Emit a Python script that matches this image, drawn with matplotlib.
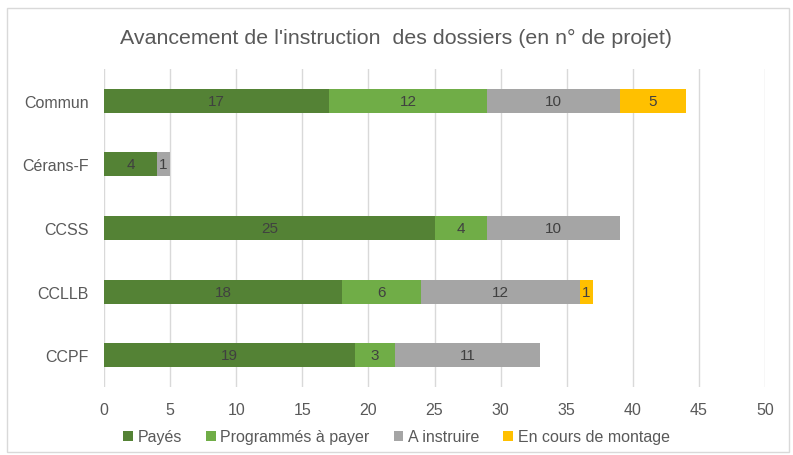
import matplotlib
matplotlib.use("Agg")
import matplotlib.pyplot as plt
from matplotlib.patches import Rectangle
from matplotlib import font_manager

names = {f.name for f in font_manager.fontManager.ttflist}
fam = "Liberation Sans Narrow" if "Liberation Sans Narrow" in names else "Liberation Sans"
plt.rcParams['font.family'] = [fam, 'DejaVu Sans']

categories = ["Commun", "Cérans-F", "CCSS", "CCLLB", "CCPF"]
series_names = ["Payés", "Programmés à payer", "A instruire", "En cours de montage"]
payes = [17, 4, 25, 18, 19]
programmes = [12, 0, 4, 6, 3]
a_instruire = [10, 1, 10, 12, 11]
en_cours = [5, 0, 0, 1, 0]
series = [payes, programmes, a_instruire, en_cours]
colors = ["#548235", "#70AD47", "#A5A5A5", "#FFC000"]
xticks = list(range(0, 55, 5))

fig = plt.figure(figsize=(7.93, 4.56), dpi=100)
ax = fig.add_axes([104/793, 68/456, (765-104)/793, (388-70)/456])

ypos = list(range(len(categories)))[::-1]
left = [0]*len(categories)
for vals, name, col in zip(series, series_names, colors):
    bars = ax.barh(ypos, vals, left=left, height=0.38, color=col, label=name, zorder=3)
    for b, v, l in zip(bars, vals, left):
        if v > 0:
            ax.text(l + v/2, b.get_y() + b.get_height()/2, str(v), ha='center', va='center',
                    fontsize=11, color='#404040', zorder=4)
    left = [a + b for a, b in zip(left, vals)]

ax.set_xlim(0, 50)
ax.set_ylim(-0.5, len(categories)-0.5)
ax.set_xticks(xticks)
ax.set_yticks(ypos)
ax.set_yticklabels(categories)
ax.tick_params(axis='both', length=0, colors='#595959', labelsize=11.5)
ax.tick_params(axis='x', pad=11)
ax.tick_params(axis='y', pad=11)
ax.grid(axis='x', color='#D9D9D9', linewidth=1, zorder=0)
for s in ax.spines.values():
    s.set_visible(False)

fig.text(0.5, 1 - 38/456, "Avancement de l'instruction  des dossiers (en n° de projet)",
         ha='center', va='center', fontsize=15.4, color='#595959')

leg = fig.legend(loc='center', bbox_to_anchor=(0.5, 1 - 438/456), ncol=4, frameon=False,
                 fontsize=11.5, handlelength=0.6, handleheight=0.6, handletextpad=0.3,
                 columnspacing=1.5, labelcolor='#595959')

fig.patches.append(Rectangle((7/793, 1 - 453/456), (789-7)/793, (453-9)/456, transform=fig.transFigure,
                             fill=False, edgecolor='#D9D9D9', linewidth=1))

fig.savefig("out.png", dpi=100)
